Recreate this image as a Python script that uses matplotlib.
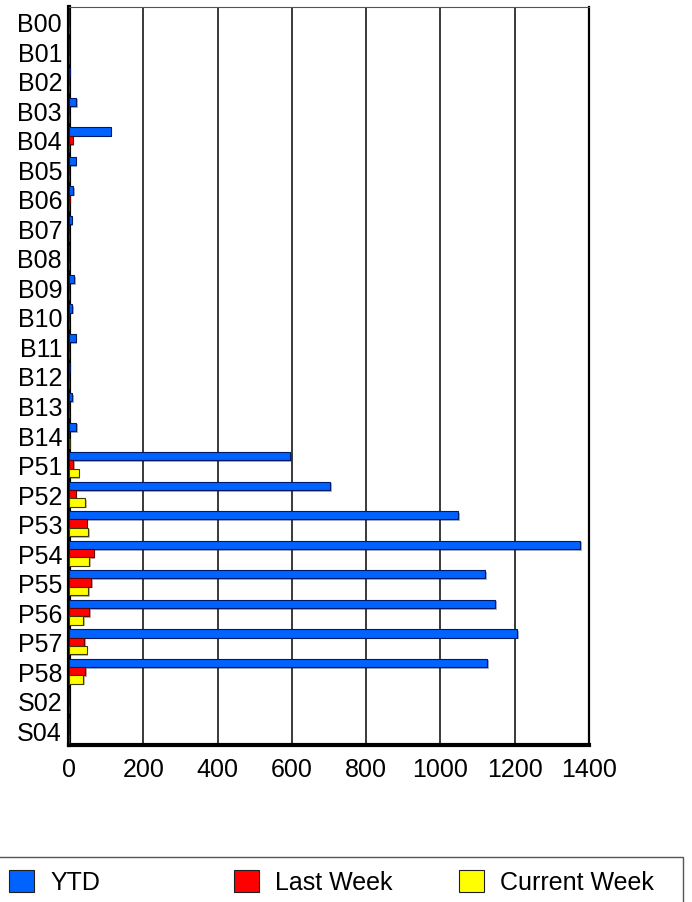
import numpy as np
import matplotlib
matplotlib.use("Agg")
import matplotlib.pyplot as plt
from matplotlib.patches import Rectangle, Patch
import matplotlib.patheffects as pe

plt.rcParams['font.family'] = ['Liberation Sans', 'DejaVu Sans']

categories = ['B00', 'B01', 'B02', 'B03', 'B04', 'B05', 'B06', 'B07', 'B08', 'B09',
              'B10', 'B11', 'B12', 'B13', 'B14', 'P51', 'P52', 'P53', 'P54', 'P55',
              'P56', 'P57', 'P58', 'S02', 'S04']
ytd = [0, 0, 2, 20, 112, 18, 12, 7, 0, 14,
       8, 18, 2, 9, 20, 595, 703, 1047, 1377, 1120,
       1147, 1206, 1125, 0, 0]
last_week = [0, 0, 0, 0, 10, 0, 2, 0, 0, 0,
             0, 0, 0, 0, 0, 12, 18, 48, 66, 59,
             55, 41, 43, 0, 0]
current_week = [0, 0, 0, 0, 0, 0, 0, 0, 0, 0,
                0, 0, 0, 0, 2, 26, 44, 52, 55, 52,
                39, 48, 39, 0, 0]
series_names = ['YTD', 'Last Week', 'Current Week']
colors = ['#0062ff', '#ff0000', '#ffff00']
edges = ['#001a66', '#660000', '#3a3a00']

fig = plt.figure(figsize=(6.92, 9.03), dpi=100)
ax = fig.add_axes([69 / 692, 1 - 746 / 903, 520 / 692, 738 / 903])

y = np.arange(len(categories))
h = 0.283
shadow = [pe.SimplePatchShadow(offset=(1.2, -1.2), alpha=0.35), pe.Normal()]
for i, vals in enumerate([ytd, last_week, current_week]):
    ax.barh(y + (i - 1) * h, vals, height=h, color=colors[i], edgecolor=edges[i],
            linewidth=0.8, zorder=3, path_effects=shadow)

ax.set_xlim(0, 1400)
ax.set_ylim(len(categories) - 0.5, -0.5)
ax.set_yticks(y)
ax.set_yticklabels(categories)
ax.set_xticks(np.arange(0, 1401, 200))
ax.tick_params(length=0, labelsize=18)
ax.tick_params(axis='y', pad=5)
ax.tick_params(axis='x', pad=9)
ax.grid(axis='x', color='#2a2a2a', linewidth=1.3, zorder=0)
ax.spines['left'].set_linewidth(3)
ax.spines['bottom'].set_linewidth(3)
ax.spines['right'].set_linewidth(1.6)
ax.spines['top'].set_linewidth(0.8)
ax.spines['top'].set_color('#555555')

# legend frame
fig.patches.append(Rectangle((-5 / 692, -10 / 903), 688 / 692, 55 / 903,
                             transform=fig.transFigure, fill=False,
                             edgecolor='#555555', linewidth=1))
for i, name in enumerate(series_names):
    fig.legend(handles=[Patch(facecolor=colors[i], edgecolor='#202020', linewidth=0.8)],
               labels=[name], loc='center left',
               bbox_to_anchor=((9 + 225 * i) / 692, 1 - 883 / 903),
               frameon=False, fontsize=18, handlelength=1.0, handleheight=1.0,
               handletextpad=0.64, borderpad=0, borderaxespad=0)

fig.savefig('out.png', dpi=100)
